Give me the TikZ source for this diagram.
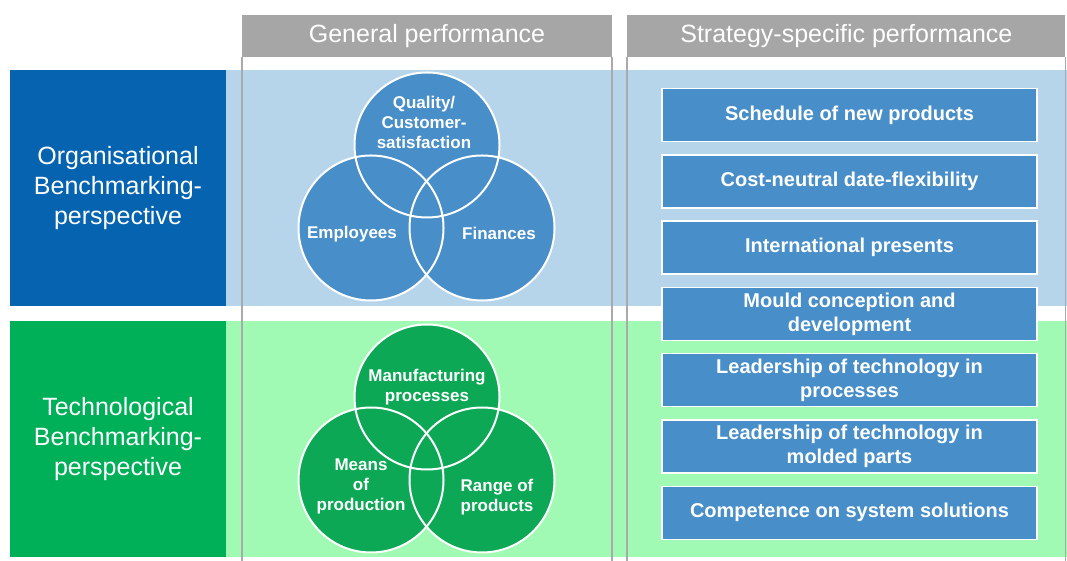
\documentclass[tikz,border=0pt]{standalone}
\usepackage{fontspec}
\setmainfont{Liberation Sans}
\usepackage{tikz}
\usetikzlibrary{positioning}
\definecolor{orgblue}{RGB}{5,99,175}
\definecolor{orgband}{RGB}{183,213,234}
\definecolor{techgreen}{RGB}{0,176,88}
\definecolor{techband}{RGB}{160,250,180}
\definecolor{venblue}{RGB}{72,142,200}
\definecolor{vengreen}{RGB}{12,168,86}
\definecolor{headgray}{RGB}{166,166,166}
\definecolor{colgray}{RGB}{170,170,170}

\begin{document}
\begin{tikzpicture}[x=1pt, y=1pt,
  persp/.style={text=white, align=center, inner sep=0pt,
    minimum width=216pt, minimum height=236pt,
    font=\fontsize{25}{30}\selectfont},
  band/.style={inner sep=0pt, minimum width=841pt, minimum height=236pt},
  colhead/.style={fill=headgray, text=white, inner sep=0pt,
    minimum height=42pt, font=\fontsize{25}{30}\selectfont},
  colline/.style={draw=colgray, line width=1.5pt},
  blob/.style={circle, inner sep=0pt, minimum size=145pt},
  ring/.style={draw=white, line width=2pt},
  blobtext/.style={text=white, align=center,
    font=\fontsize{17}{20}\bfseries\selectfont},
  goal/.style={fill=venblue, draw=white, line width=1.5pt, text=white,
    align=center, inner sep=0pt, minimum width=375pt, minimum height=53pt,
    font=\fontsize{20}{24}\bfseries\selectfont}]
  \useasboundingbox (0,0) rectangle (1067,561);
  \coordinate (base) at (0,-4);

  \node[persp, fill=orgblue] (org) at (118,373)
    {Organisational\\Benchmarking-\\perspective};
  \node[persp, fill=techgreen, below=15pt of org] (tech)
    {Technological\\Benchmarking-\\perspective};
  \node[band, fill=orgband, right=0pt of org] (orgbd) {};
  \node[band, fill=techband, right=0pt of tech] (techbd) {};

  \node[colhead, minimum width=370pt] (gen) at (427,525) {General performance};
  \node[colhead, minimum width=438pt, right=15pt of gen] (strat)
    {Strategy-specific performance};
  \foreach \h in {gen,strat} {
    \draw[colline] (\h.south west) -- (\h.south west |- base);
    \draw[colline] (\h.south east) -- (\h.south east |- base);
  }

  \node[blob, fill=venblue] (qual) at (427,416) {};
  \node[blob, fill=venblue] (empl) at (371,333) {};
  \node[blob, fill=venblue] (fin) at (482,333) {};
  \node[blob, fill=vengreen] (manu) at (427,164) {};
  \node[blob, fill=vengreen] (means) at (371,81) {};
  \node[blob, fill=vengreen] (range) at (482,81) {};
  \foreach \c in {qual,empl,fin,manu,means,range}
    \draw[ring] (\c.center) circle (72.5);

  \node[blobtext] (qualtx) at (424,439) {Quality/\\Customer-\\satisfaction};
  \node[blobtext] (empltx) at (352,327) {Employees};
  \node[blobtext] (fintx) at (499,328) {Finances};
  \node[blobtext] (manutx) at (427,174) {Manufacturing\\processes};
  \node[blobtext] (meanstx) at (361,75) {Means\\of\\production};
  \node[blobtext] (rangetx) at (497,64) {Range of\\products};

  \node[goal] (g1) at (849.5,446) {Schedule of new products};
  \node[goal, below=11.8pt of g1] (g2) {Cost-neutral date-flexibility};
  \node[goal, below=11.8pt of g2] (g3) {International presents};
  \node[goal, below=11.8pt of g3] (g4) {Mould conception and\\development};
  \node[goal, below=11.8pt of g4] (g5) {Leadership of technology in\\processes};
  \node[goal, below=11.8pt of g5] (g6) {Leadership of technology in\\molded parts};
  \node[goal, below=11.8pt of g6] (g7) {Competence on system solutions};
\end{tikzpicture}
\end{document}
